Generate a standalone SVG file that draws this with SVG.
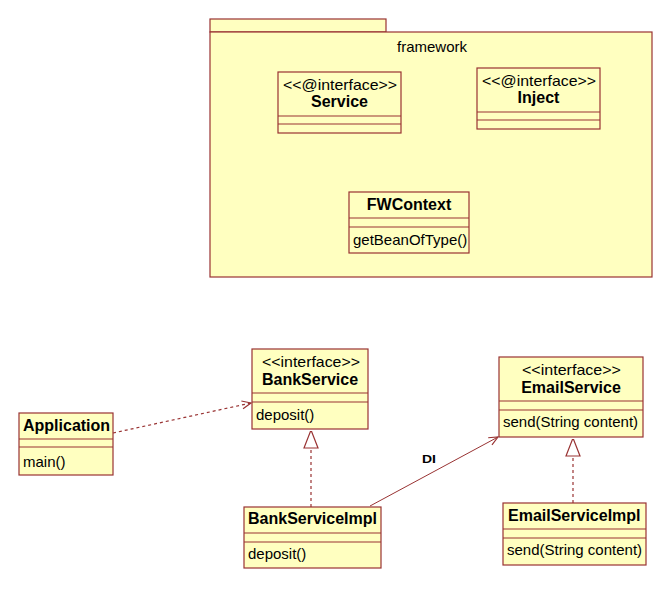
<svg xmlns="http://www.w3.org/2000/svg" width="672" height="589" viewBox="0 0 672 589">
<style>
.box{fill:#FFFFC0;stroke:#993333;stroke-width:1.2}
.ln{stroke:#993333;stroke-width:1.2}
text{font-family:"Liberation Sans",Arial,sans-serif;font-size:15px;fill:#000}
.b{font-weight:bold;font-size:16px}
.c{text-anchor:middle}
.dash{fill:none;stroke:#993333;stroke-width:1.2;stroke-dasharray:3,3}
.sol{fill:none;stroke:#993333;stroke-width:1}
</style>
<defs>
<marker id="open" markerWidth="12" markerHeight="10" refX="10" refY="5" orient="auto" markerUnits="userSpaceOnUse">
<path d="M1,1 L10,5 L1,9" fill="none" stroke="#993333" stroke-width="1.2"/>
</marker>
<marker id="tri" markerWidth="18" markerHeight="18" refX="19" refY="8" orient="auto" markerUnits="userSpaceOnUse">
<path d="M1,1 L19,8 L1,15 Z" fill="#fff" stroke="#993333" stroke-width="1.2"/>
</marker>
</defs>
<g id="framework">
<rect class="box" x="210" y="19" width="176" height="13"/>
<rect class="box" x="210" y="32" width="442" height="245"/>
<text class="c" x="432" y="52">framework</text>
</g>
<g id="Service">
<rect class="box" x="278" y="72" width="123" height="61"/>
<line class="ln" x1="278" y1="116" x2="401" y2="116"/>
<line class="ln" x1="278" y1="124" x2="401" y2="124"/>
<text x="283" y="90" textLength="114" lengthAdjust="spacingAndGlyphs">&lt;&lt;@interface&gt;&gt;</text>
<text class="c b" x="339.5" y="107">Service</text>
</g>
<g id="Inject">
<rect class="box" x="477" y="68" width="123" height="61"/>
<line class="ln" x1="477" y1="112" x2="600" y2="112"/>
<line class="ln" x1="477" y1="120" x2="600" y2="120"/>
<text x="482" y="86" textLength="114" lengthAdjust="spacingAndGlyphs">&lt;&lt;@interface&gt;&gt;</text>
<text class="c b" x="538.5" y="103">Inject</text>
</g>
<g id="FWContext">
<rect class="box" x="349" y="192" width="120" height="61"/>
<line class="ln" x1="349" y1="218" x2="469" y2="218"/>
<line class="ln" x1="349" y1="227" x2="469" y2="227"/>
<text class="c b" x="409" y="210">FWContext</text>
<text x="353" y="245">getBeanOfType()</text>
</g>
<g id="Application">
<rect class="box" x="19" y="413" width="94" height="62"/>
<line class="ln" x1="19" y1="439" x2="113" y2="439"/>
<line class="ln" x1="19" y1="447" x2="113" y2="447"/>
<text class="b" x="23" y="431">Application</text>
<text x="23" y="467">main()</text>
</g>
<g id="BankService">
<rect class="box" x="252" y="349" width="116" height="80"/>
<line class="ln" x1="252" y1="393" x2="368" y2="393"/>
<line class="ln" x1="252" y1="402" x2="368" y2="402"/>
<text x="262" y="367" textLength="98" lengthAdjust="spacingAndGlyphs">&lt;&lt;interface&gt;&gt;</text>
<text class="c b" x="310" y="385">BankService</text>
<text x="256" y="420">deposit()</text>
</g>
<g id="EmailService">
<rect class="box" x="499" y="357" width="144" height="80"/>
<line class="ln" x1="499" y1="401" x2="643" y2="401"/>
<line class="ln" x1="499" y1="410" x2="643" y2="410"/>
<text x="522" y="375" textLength="99" lengthAdjust="spacingAndGlyphs">&lt;&lt;interface&gt;&gt;</text>
<text class="c b" x="571" y="393">EmailService</text>
<text x="503" y="427">send(String content)</text>
</g>
<g id="BankServiceImpl">
<rect class="box" x="244" y="507" width="137" height="61"/>
<line class="ln" x1="244" y1="533" x2="381" y2="533"/>
<line class="ln" x1="244" y1="542" x2="381" y2="542"/>
<text class="b" x="248" y="524">BankServiceImpl</text>
<text x="248" y="559">deposit()</text>
</g>
<g id="EmailServiceImpl">
<rect class="box" x="503" y="503" width="143" height="62"/>
<line class="ln" x1="503" y1="529" x2="646" y2="529"/>
<line class="ln" x1="503" y1="538" x2="646" y2="538"/>
<text class="b" x="508" y="521">EmailServiceImpl</text>
<text x="507" y="555">send(String content)</text>
</g>
<g id="connectors">
<line class="dash" x1="113" y1="433" x2="251" y2="403" marker-end="url(#open)"/>
<line class="dash" x1="311" y1="507" x2="311" y2="430" marker-end="url(#tri)"/>
<line class="dash" x1="573" y1="503" x2="573" y2="438" marker-end="url(#tri)"/>
<line class="sol" x1="370" y1="506" x2="498" y2="437" marker-end="url(#open)"/>
<text x="422" y="463" textLength="14" lengthAdjust="spacingAndGlyphs" style="font-size:10px;font-weight:bold">DI</text>
</g>
</svg>
